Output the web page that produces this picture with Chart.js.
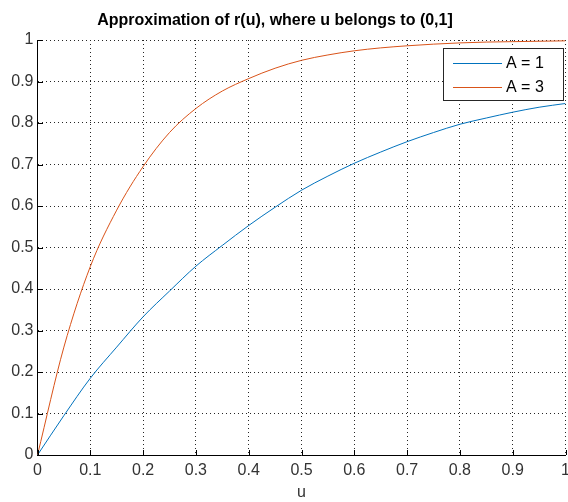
<!DOCTYPE html>
<html>
<head>
<meta charset="utf-8">
<script src="https://cdn.jsdelivr.net/npm/chart.js@4/dist/chart.umd.min.js"></script>
<style>
html,body{margin:0;padding:0;background:#fff;}
#wrap{width:568px;height:502px;position:relative;}
</style>
</head>
<body>
<div id="wrap"><canvas id="c" width="568" height="502"></canvas></div>
<script>
const chartTitle = "Approximation of r(u), where u belongs to (0,1]";
const xLabel = "u";
const seriesNames = ["A = 1", "A = 3"];
const uValues = [0, 0.05, 0.1, 0.15, 0.2, 0.25, 0.3, 0.35, 0.4, 0.45, 0.5, 0.55, 0.6, 0.65, 0.7, 0.75, 0.8, 0.85, 0.9, 0.95, 1.0];
const rA1 = [0, 0.095, 0.185, 0.26, 0.333, 0.395, 0.455, 0.505, 0.553, 0.597, 0.638, 0.672, 0.703, 0.73, 0.755, 0.777, 0.797, 0.812, 0.826, 0.838, 0.847];
const rA3 = [0, 0.26, 0.454, 0.59, 0.695, 0.777, 0.835, 0.877, 0.907, 0.932, 0.951, 0.964, 0.974, 0.981, 0.986, 0.99, 0.993, 0.995, 0.996, 0.997, 0.998];
const xTicks = [0, 0.1, 0.2, 0.3, 0.4, 0.5, 0.6, 0.7, 0.8, 0.9, 1];
const yTicks = [0, 0.1, 0.2, 0.3, 0.4, 0.5, 0.6, 0.7, 0.8, 0.9, 1];

const FONT = "'Liberation Sans', Arial, Helvetica, sans-serif";
const colors = ["#0072BD", "#D95319"];

function pts(ys){ return uValues.map((u,i)=>({x:u, y:ys[i]})); }

const fmt = v => { const r = Math.round(v*10)/10; return r === 0 ? "0" : r === 1 ? "1" : String(r); };

const decor = {
  id: 'decor',
  afterDraw(chart){
    const ctx = chart.ctx;
    const xs = chart.scales.x, ys = chart.scales.y;
    const ca = chart.chartArea;
    ctx.save();
    // inward tick marks
    ctx.strokeStyle = '#000';
    ctx.lineWidth = 1;
    ctx.beginPath();
    xTicks.forEach(v=>{
      const px = Math.round(xs.getPixelForValue(v)) + 0.5;
      ctx.moveTo(px, Math.round(ca.bottom)); ctx.lineTo(px, Math.round(ca.bottom) - 5);
    });
    yTicks.forEach(v=>{
      const py = Math.round(ys.getPixelForValue(v)) + 0.5;
      ctx.moveTo(Math.round(ca.left), py); ctx.lineTo(Math.round(ca.left) + 5, py);
    });
    ctx.stroke();
    // title
    ctx.fillStyle = '#000';
    ctx.font = "bold 16px " + FONT;
    ctx.textAlign = 'center';
    ctx.textBaseline = 'middle';
    ctx.fillText(chartTitle, 275, 21);
    // legend box
    const bx = 443.5, by = 48.5, bw = 120, bh = 52;
    ctx.fillStyle = '#fff';
    ctx.fillRect(bx, by, bw, bh);
    ctx.strokeStyle = '#262626';
    ctx.strokeRect(bx, by, bw, bh);
    chart.data.datasets.forEach((ds,i)=>{
      const ly = 63 + i*24 + 0.5;
      ctx.strokeStyle = ds.borderColor;
      ctx.lineWidth = 1;
      ctx.beginPath(); ctx.moveTo(453, ly); ctx.lineTo(502, ly); ctx.stroke();
      ctx.fillStyle = '#000';
      ctx.font = "16px " + FONT;
      ctx.textAlign = 'left';
      ctx.textBaseline = 'middle';
      ctx.fillText(ds.label, 506, ly);
    });
    ctx.restore();
  }
};

new Chart(document.getElementById('c'), {
  type: 'line',
  data: {
    datasets: [
      {label: seriesNames[0], data: pts(rA1), borderColor: colors[0], backgroundColor: colors[0], borderWidth: 1, pointRadius: 0, cubicInterpolationMode: 'monotone', fill: false},
      {label: seriesNames[1], data: pts(rA3), borderColor: colors[1], backgroundColor: colors[1], borderWidth: 1, pointRadius: 0, cubicInterpolationMode: 'monotone', fill: false}
    ]
  },
  options: {
    responsive: false,
    animation: false,
    events: [],
    layout: {padding: {left: 0, right: 2.5, top: 40, bottom: 0}},
    plugins: {legend: {display: false}, title: {display: false}, tooltip: {enabled: false}},
    scales: {
      x: {
        type: 'linear', min: 0, max: 1,
        afterFit(s){ s.height = 47; s.paddingLeft = 0; s.paddingRight = 0; },
        afterBuildTicks(s){ s.ticks = xTicks.map(v=>({value:v})); },
        ticks: {callback: fmt, color: '#333', font: {family: FONT, size: 16}, padding: 6, maxRotation: 0, autoSkip: false},
        grid: {color: '#262626', lineWidth: 1, drawTicks: false},
        border: {display: true, color: '#000', width: 1, dash: [1,3]},
        title: {display: true, text: xLabel, color: '#333', font: {family: FONT, size: 16}, padding: {top: 0, bottom: 0}}
      },
      y: {
        type: 'linear', min: 0, max: 1,
        afterFit(s){ s.width = 37.5; s.paddingTop = 0; s.paddingBottom = 0; },
        afterBuildTicks(s){ s.ticks = yTicks.map(v=>({value:v})); },
        ticks: {callback: fmt, color: '#333', font: {family: FONT, size: 16}, padding: 4, autoSkip: false},
        grid: {color: '#262626', lineWidth: 1, drawTicks: false},
        border: {display: true, color: '#000', width: 1, dash: [1,3]}
      }
    }
  },
  plugins: [decor]
});
</script>
</body>
</html>
